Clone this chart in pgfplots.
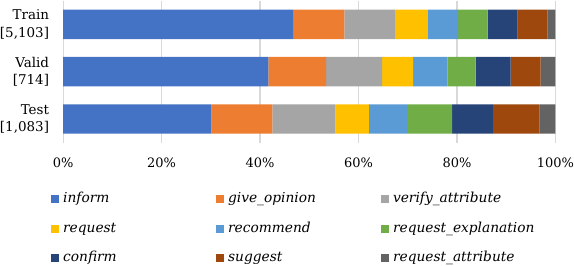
\documentclass[border=0pt]{standalone}
\usepackage{fontspec}
\setmainfont{DejaVu Serif}
\usepackage{pgfplots}
\pgfplotsset{compat=1.18}
\definecolor{c1}{HTML}{4472C4}
\definecolor{c2}{HTML}{ED7D31}
\definecolor{c3}{HTML}{A5A5A5}
\definecolor{c4}{HTML}{FFC000}
\definecolor{c5}{HTML}{5B9BD5}
\definecolor{c6}{HTML}{70AD47}
\definecolor{c7}{HTML}{264478}
\definecolor{c8}{HTML}{9E480E}
\definecolor{c9}{HTML}{636363}
\definecolor{gridc}{HTML}{D9D9D9}
\newcommand{\legent}[1]{\makebox[153.5pt][l]{\textit{#1}}}
\begin{document}
\begin{tikzpicture}
\begin{axis}[
  scale only axis, width=494pt, height=142.5pt,
  xbar stacked, bar width=29.5pt,
  xmin=0, xmax=100, ymin=-0.5, ymax=2.5, y dir=reverse,
  ytick={0,1,2},
  yticklabels={{Train\\{}[5,103]},{Valid\\{}[714]},{Test\\{}[1,083]}},
  yticklabel style={align=right, anchor=east, inner sep=0pt, xshift=-14pt,
    font=\fontsize{13.5}{17.5}\selectfont},
  xtick={0,20,40,60,80,100},
  xticklabel={\pgfmathprintnumber{\tick}\%},
  /pgf/number format/assume math mode=true,
  xticklabel style={anchor=north, inner sep=0pt, yshift=-15pt,
    font=\fontsize{13}{16}\selectfont},
  major tick length=0pt,
  axis line style={draw=none},
  xmajorgrids, ymajorgrids=false,
  grid style={gridc, line width=1.3pt},
  legend columns=3,
  legend cell align=left,
  legend image code/.code={\fill[#1] (0pt,-4pt) rectangle (8pt,4pt);},
  legend style={draw=none, inner sep=0pt, outer sep=0pt,
    at={(axis description cs:0,0)}, anchor=north west,
    xshift=-12pt, yshift=-49.5pt,
    column sep=0pt, row sep=14.5pt,
    /tikz/every odd column/.style={column sep=4pt},
    nodes={inner sep=0pt, text height=11pt, text depth=4pt},
    font=\fontsize{13.8}{16}\selectfont},
]
\addplot[fill=c1, draw=none] coordinates {(46.8,0) (41.7,1) (30.1,2)};
\addlegendentry{\legent{inform}}
\addplot[fill=c2, draw=none] coordinates {(10.3,0) (11.7,1) (12.4,2)};
\addlegendentry{\legent{give\_opinion}}
\addplot[fill=c3, draw=none] coordinates {(10.3,0) (11.4,1) (12.8,2)};
\addlegendentry{\legent{verify\_attribute}}
\addplot[fill=c4, draw=none] coordinates {(6.7,0) (6.3,1) (6.8,2)};
\addlegendentry{\legent{request}}
\addplot[fill=c5, draw=none] coordinates {(6.1,0) (7.0,1) (7.7,2)};
\addlegendentry{\legent{recommend}}
\addplot[fill=c6, draw=none] coordinates {(6.0,0) (5.7,1) (9.2,2)};
\addlegendentry{\legent{request\_explanation}}
\addplot[fill=c7, draw=none] coordinates {(6.1,0) (7.1,1) (8.3,2)};
\addlegendentry{\legent{confirm}}
\addplot[fill=c8, draw=none] coordinates {(6.1,0) (6.1,1) (9.5,2)};
\addlegendentry{\legent{suggest}}
\addplot[fill=c9, draw=none] coordinates {(1.6,0) (3.0,1) (3.2,2)};
\addlegendentry{\legent{request\_attribute}}
\end{axis}
\end{tikzpicture}
\end{document}
